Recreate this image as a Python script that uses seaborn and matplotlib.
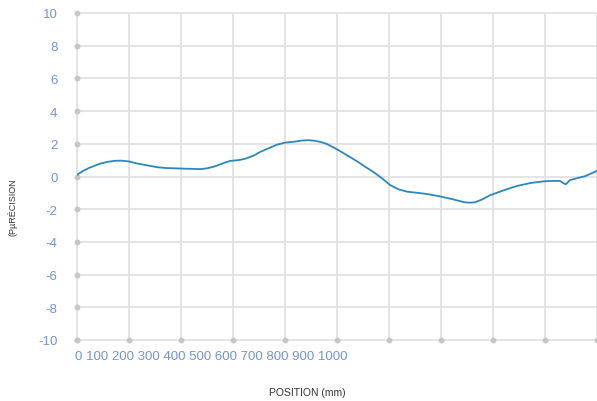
import matplotlib
matplotlib.use("Agg")
import matplotlib.pyplot as plt
import seaborn as sns
import pandas as pd

position_mm = [0, 12, 25, 44, 60, 73, 85, 100, 115, 135, 154, 170, 188, 205, 217, 237,
               250, 265, 280, 294, 310, 323, 340, 352, 370, 385, 400, 418, 433, 446,
               458, 470, 481, 495, 506, 525, 540, 554, 565, 577, 590, 602, 618, 635,
               655, 673, 695, 717, 732, 746, 756, 765, 778, 794, 820, 846, 872, 896,
               915, 929, 935, 940, 948, 962, 977, 990, 1000]
precision = [0.1, 0.35, 0.55, 0.78, 0.9, 0.96, 0.97, 0.92, 0.8, 0.68, 0.57, 0.52,
             0.5, 0.48, 0.47, 0.45, 0.5, 0.62, 0.8, 0.95, 1.0, 1.08, 1.28, 1.5,
             1.75, 1.95, 2.07, 2.13, 2.2, 2.22, 2.18, 2.1, 1.98, 1.75, 1.55, 1.19,
             0.9, 0.6, 0.38, 0.12, -0.2, -0.52, -0.78, -0.93, -1.0, -1.07, -1.2,
             -1.35, -1.47, -1.58, -1.6, -1.58, -1.42, -1.15, -0.85, -0.58, -0.4,
             -0.3, -0.27, -0.27, -0.4, -0.48, -0.22, -0.1, 0.02, 0.2, 0.35]
y_ticks = [-10, -8, -6, -4, -2, 0, 2, 4, 6, 8, 10]
x_ticks = [0, 100, 200, 300, 400, 500, 600, 700, 800, 900, 1000]
x_tick_text = " ".join(str(v) for v in x_ticks)

df = pd.DataFrame({"pos": position_mm, "prec": precision})

sns.set_theme(style="white")
plt.rcParams['font.family'] = ['Liberation Sans', 'DejaVu Sans']

fig = plt.figure(figsize=(5.97, 4.02), dpi=100)
ax = fig.add_axes([77/597, 1 - 341/402, 520/597, 327/402])

grid_c = "#e2e2e2"
for x in x_ticks:
    ax.axvline(x, color=grid_c, lw=1.3, zorder=0, clip_on=False)
for y in y_ticks:
    ax.axhline(y, color=grid_c, lw=1.3, zorder=0, clip_on=False)

sns.lineplot(data=df, x="pos", y="prec", ax=ax, color="#2b87bd", lw=1.3, zorder=3)

ax.scatter([0]*len(y_ticks), y_ticks, s=18, color="#c6c6c6", zorder=2, clip_on=False, lw=0)
ax.scatter(x_ticks, [-10]*len(x_ticks), s=18, color="#c6c6c6", zorder=2, clip_on=False, lw=0)

ax.set_xlim(0, 1000)
ax.set_ylim(-10, 10)
for s in ax.spines.values():
    s.set_visible(False)
ax.set_xticks([])
ax.set_yticks(y_ticks)
ax.set_yticklabels([str(v) for v in y_ticks], color="#7593d6", fontsize=9.5)
ax.tick_params(axis="y", length=0, pad=14)
ax.set_xlabel("")
ax.set_ylabel("")

fig.text(75/597, 1 - 357/402, x_tick_text, color="#7593d6", fontsize=9.5,
         ha="left", va="center")
fig.text(307/597, 1 - 393/402, "POSITION (mm)", color="#333333", fontsize=7.5,
         ha="center", va="center")
fig.text(12/597, 1 - 207/402, "(PµRÉCISION", color="#333333", fontsize=6.5,
         ha="center", va="center", rotation=90)

fig.savefig("out.png", dpi=100)
